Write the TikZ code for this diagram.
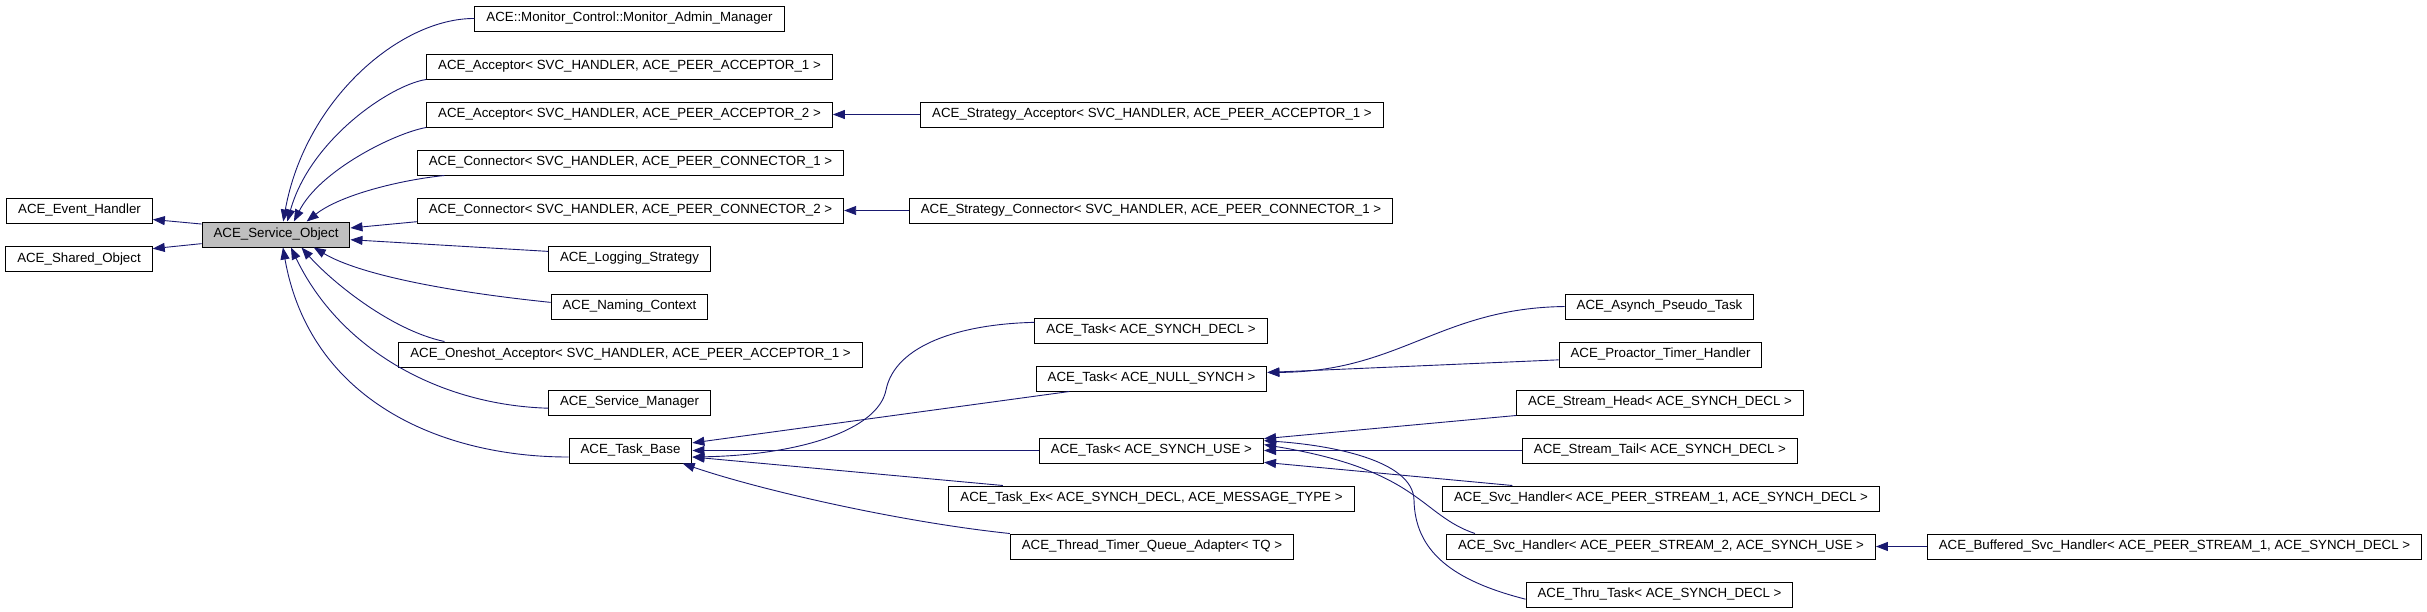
\documentclass[tikz,border=0pt]{standalone}
\usepackage{fontspec}
\setmainfont{Liberation Sans}
\usetikzlibrary{arrows.meta}
\definecolor{edgeblue}{RGB}{25,25,112}
\definecolor{basegray}{RGB}{191,191,191}

\begin{document}
\begin{tikzpicture}[x=1pt, y=-1pt,
    cls/.style={draw, line width=1pt, fill=white, minimum height=25pt,
      inner xsep=11.5pt, inner ysep=0pt, text height=9.6pt, text depth=2.8pt,
      font=\fontsize{13.3}{16}\selectfont},
    inh/.style={draw=edgeblue, line width=0.9pt, -{Triangle[length=12pt,width=9pt]}}]
          \useasboundingbox (0,0) rectangle (2427,611);

          \begin{scope}[every node/.style={cls}]
            \node (evh) at (79.5,210.5) {ACE\_Event\_Handler};
            \node (sho) at (79,259) {ACE\_Shared\_Object};
            \node (svo) [fill=basegray] at (276,234.5) {ACE\_Service\_Object};
            \node (mam) at (629.5,18.5) {ACE::Monitor\_Control::Monitor\_Admin\_Manager};
            \node (acc1) at (629.5,66.5) {ACE\_Acceptor< SVC\_HANDLER, ACE\_PEER\_ACCEPTOR\_1 >};
            \node (acc2) at (629.5,114.5) {ACE\_Acceptor< SVC\_HANDLER, ACE\_PEER\_ACCEPTOR\_2 >};
            \node (con1) at (630.5,162.5) {ACE\_Connector< SVC\_HANDLER, ACE\_PEER\_CONNECTOR\_1 >};
            \node (con2) at (630.5,210.5) {ACE\_Connector< SVC\_HANDLER, ACE\_PEER\_CONNECTOR\_2 >};
            \node (logs) at (629.5,258.5) {ACE\_Logging\_Strategy};
            \node (namc) at (629.5,306.5) {ACE\_Naming\_Context};
            \node (osacc) at (630.5,354.5) {ACE\_Oneshot\_Acceptor< SVC\_HANDLER, ACE\_PEER\_ACCEPTOR\_1 >};
            \node (svmg) at (629.5,402.5) {ACE\_Service\_Manager};
            \node (tbase) at (630.5,450.5) {ACE\_Task\_Base};
            \node (sacc) at (1152,114.5) {ACE\_Strategy\_Acceptor< SVC\_HANDLER, ACE\_PEER\_ACCEPTOR\_1 >};
            \node (scon) at (1151,210.5) {ACE\_Strategy\_Connector< SVC\_HANDLER, ACE\_PEER\_CONNECTOR\_1 >};
            \node (tdecl) at (1151,330.5) {ACE\_Task< ACE\_SYNCH\_DECL >};
            \node (tnull) at (1151.5,378.5) {ACE\_Task< ACE\_NULL\_SYNCH >};
            \node (tuse) at (1151.5,450.5) {ACE\_Task< ACE\_SYNCH\_USE >};
            \node (tex) at (1151.5,498.5) {ACE\_Task\_Ex< ACE\_SYNCH\_DECL, ACE\_MESSAGE\_TYPE >};
            \node (ttqa) at (1152,546.5) {ACE\_Thread\_Timer\_Queue\_Adapter< TQ >};
            \node (apt) at (1659.5,306.5) {ACE\_Asynch\_Pseudo\_Task};
            \node (pth) at (1660.5,354.5) {ACE\_Proactor\_Timer\_Handler};
            \node (shead) at (1660,402.5) {ACE\_Stream\_Head< ACE\_SYNCH\_DECL >};
            \node (stail) at (1660,450.5) {ACE\_Stream\_Tail< ACE\_SYNCH\_DECL >};
            \node (svch1) at (1661,498.5) {ACE\_Svc\_Handler< ACE\_PEER\_STREAM\_1, ACE\_SYNCH\_DECL >};
            \node (svch2) at (1661,546.5) {ACE\_Svc\_Handler< ACE\_PEER\_STREAM\_2, ACE\_SYNCH\_USE >};
            \node (thru) at (1659.5,594.5) {ACE\_Thru\_Task< ACE\_SYNCH\_DECL >};
            \node (bsvch) at (2174.5,546.5) {ACE\_Buffered\_Svc\_Handler< ACE\_PEER\_STREAM\_1, ACE\_SYNCH\_DECL >};
          \end{scope}

          % bases of the service object
          \draw[inh] (svo.172) -- (evh.-7);
          \draw[inh] (svo.-173) -- (sho.8);

          % children of the service object
          \draw[inh] (mam.west) .. controls (400,18) and (305,100) .. (svo.61);
          \draw[inh] (acc1.south west) .. controls (390,85) and (310,140) .. (svo.49);
          \draw[inh] (acc2.south west) .. controls (395,133) and (320,170) .. (svo.36);
          \draw[inh] (con1.184) .. controls (400,180) and (340,195) .. (svo.23);
          \draw[inh] (con2.183) -- (svo.5);
          \draw[inh] (logs.175) -- (svo.-4);
          \draw[inh] (namc.177) .. controls (450,292) and (360,275) .. (svo.-19);
          \draw[inh] (osacc.176) .. controls (390,330) and (330,280) .. (svo.-27);
          \draw[inh] (svmg.184) .. controls (440,405) and (340,350) .. (svo.-41);
          \draw[inh] (tbase.186) .. controls (440,457) and (310,400) .. (svo.-62);

          \path (sacc.west) edge[inh] (acc2.east);
          \path (scon.west) edge[inh] (con2.east);

          % children of the task base
          \draw[inh] (tdecl.176) .. controls (960,324) and (895,345) .. (886,390)
                                 .. controls (878,430) and (800,455) .. (tbase.-6);
          \draw[inh] (tnull.189) -- (tbase.7);
          \draw[inh] (tuse.west) -- (tbase.east);
          \draw[inh] (tex.175) -- (tbase.-6);
          \draw[inh] (ttqa.north west) .. controls (900,522) and (760,490) .. (tbase.-14);

          \draw[inh] (apt.west) .. controls (1440,308) and (1400,372) .. (tnull.3);
          \draw[inh] (pth.183) -- (tnull.3);

          \draw[inh] (shead.south west) -- (tuse.6);
          \path (stail.west) edge[inh] (tuse.east);
          \draw[inh] (svch1.175) -- (tuse.-6);
          \draw[inh] (svch2.176) .. controls (1420,515) and (1420,470) .. (tuse.3);
          \draw[inh] (thru.182) .. controls (1450,580) and (1415,550) .. (1414,500)
                                .. controls (1413,460) and (1330,445) .. (tuse.5);

          \path (bsvch.west) edge[inh] (svch2.east);
        \end{tikzpicture}
\end{document}
